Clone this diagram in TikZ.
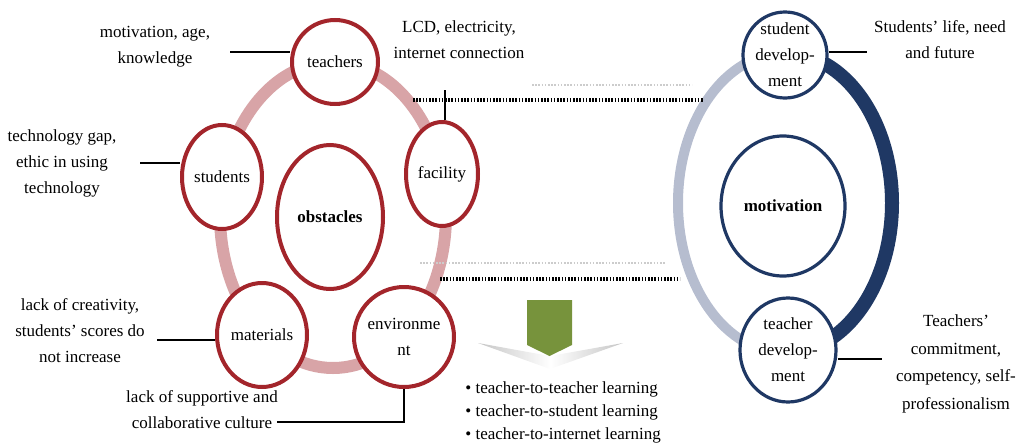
\documentclass[tikz,border=0pt]{standalone}
\usepackage{fontspec}
\setmainfont{Liberation Serif}
\usetikzlibrary{shapes.geometric}

\definecolor{ringred}{HTML}{D8A4A7}
\definecolor{darkred}{HTML}{A3252B}
\definecolor{navy}{HTML}{1F3864}
\definecolor{paleblue}{HTML}{B6BDCF}
\definecolor{leafgreen}{HTML}{77933C}

\tikzset{
  redcirc/.style={ellipse, draw=darkred, line width=2pt, fill=white, inner sep=0pt},
  bluecirc/.style={ellipse, draw=navy, line width=1.6pt, fill=white, inner sep=0pt},
  txt/.style={label={[note]center:#1}},
  note/.style={align=center, inner sep=0pt},
  link/.style={line width=1.2pt},
  ring/.style={line width=6pt, ringred},
  dots/.style={line width=1.6pt, dash pattern=on 0.8pt off 0.8pt},
  faintdots/.style={line width=0.8pt, gray!40, dash pattern=on 0.8pt off 0.8pt},
}

\begin{document}
\begin{tikzpicture}[x=0.5pt, y=-0.5pt, font=\fontsize{8.5}{13}\selectfont]
\useasboundingbox (0,0) rectangle (1023,445);

% obstacles side
\draw[ring] (333,215) ellipse [x radius=56.5pt, y radius=76.5pt];
\node[redcirc, minimum width=43pt, minimum height=42pt, txt=teachers] (teachers) at (335,62) {};
\node[redcirc, minimum width=40pt, minimum height=52pt, txt=students] (students) at (222,177) {};
\node[redcirc, minimum width=36pt, minimum height=52pt, txt=facility] (facility) at (442,174) {};
\node[redcirc, minimum width=53pt, minimum height=72pt, txt=\textbf{obstacles}] (obstacles) at (330,217) {};
\node[redcirc, minimum width=45pt, minimum height=52pt, txt=materials] (materials) at (262,335) {};
\node[redcirc, minimum width=50pt, minimum height=50pt, txt={environme\\nt}] (environment) at (404,337) {};

\node[note] (motlab) at (155,47) {motivation, age,\\knowledge};
\node[note] (lcdlab) at (459,40) {LCD, electricity,\\internet connection};
\node[note] (techlab) at (62,163) {technology gap,\\ethic in using\\technology};
\node[note] (crealab) at (80,331) {lack of creativity,\\students' scores do\\not increase};
\node[note] (suplab) at (202,410) {lack of supportive and\\collaborative culture};

\coordinate (motend) at (230,52);
\coordinate (lcdend) at (445,90);
\coordinate (techend) at (140,163);
\coordinate (creaend) at (157,340);
\coordinate (supend) at (277,422);
\draw[link] (motend) -- (motend -| teachers.west);
\draw[link] (lcdend) -- (lcdend |- facility.north);
\draw[link] (techend) -- (techend -| students.west);
\draw[link] (creaend) -- (creaend -| materials.west);
\draw[link] (environment.south) |- (supend);

% motivation side
\draw[line width=5pt, paleblue] (785,53) arc[start angle=90, end angle=270, x radius=53.5pt, y radius=75pt];
\draw[line width=7pt, navy] (785,53) arc[start angle=90, end angle=-90, x radius=53.5pt, y radius=75pt];
\node[bluecirc, minimum width=42pt, minimum height=43pt, txt={student\\develop-\\ment}] (studev) at (785,55) {};
\node[bluecirc, minimum width=62pt, minimum height=70pt, txt=\textbf{motivation}] (motivation) at (783,206) {};
\node[bluecirc, minimum width=48pt, minimum height=52pt, txt={teacher\\develop-\\ment}] (teadev) at (788,350) {};

\node[note] (stulab) at (940,40) {Students' life, need\\and future};
\node[note, font=\fontsize{8.5}{13.7}\selectfont] (tealab) at (956,364) {Teachers'\\commitment,\\competency, self-\\professionalism};

\coordinate (stuend) at (867,52);
\coordinate (teaend) at (882,359);
\draw[link] (stuend -| studev.east) -- (stuend);
\draw[link] (teaend -| teadev.east) -- (teaend);

% dotted links
\coordinate (upa) at (413,100);
\coordinate (upb) at (704,100);
\coordinate (upc) at (532,85);
\coordinate (upd) at (692,85);
\coordinate (loa) at (440,279);
\coordinate (lob) at (680,279);
\coordinate (loc) at (420,263);
\coordinate (lod) at (666,263);
\draw[faintdots] (upc) -- (upd);
\draw[dots] (upa) -- (upb);
\draw[faintdots] (loc) -- (lod);
\draw[dots] (loa) -- (lob);

% arrow and list
\shade[left color=gray!45, right color=gray!45, middle color=white]
  (478,343) -- (550,356) -- (623,343) -- (550,369) -- cycle;
\fill[leafgreen] (527,300) -- (572,300) -- (572,345) -- (549.5,356) -- (527,345) -- cycle;
\node[note, align=left, anchor=north west, font=\fontsize{8.5}{11.5}\selectfont] (ways) at (465,381)
  {\textbullet\ teacher-to-teacher learning\\
   \textbullet\ teacher-to-student learning\\
   \textbullet\ teacher-to-internet learning};
\end{tikzpicture}
\end{document}
